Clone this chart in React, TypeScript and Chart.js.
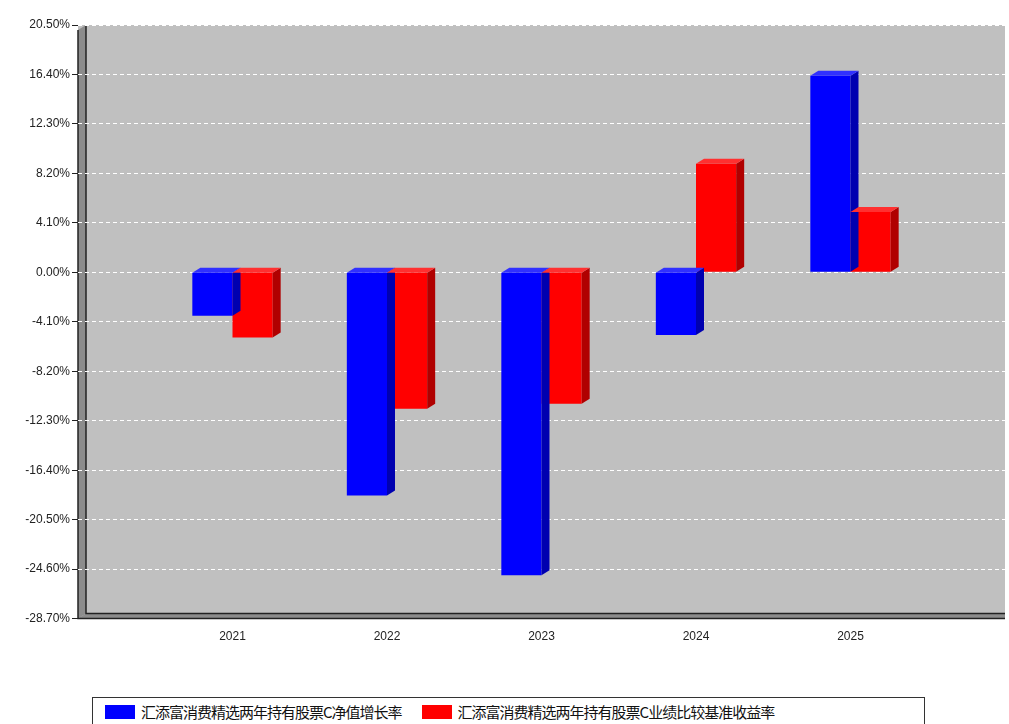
import { useEffect, useRef } from "react"
import { Chart, registerables } from "chart.js"

Chart.register(...registerables)

const years = ["", "2021", "2022", "2023", "2024", "2025", ""]
const navGrowth = [null, -3.6, -18.5, -25.1, -5.2, 16.3, null]
const benchmark = [null, -5.4, -11.3, -10.9, 9.0, 5.0, null]
const yTicks = [-28.7, -24.6, -20.5, -16.4, -12.3, -8.2, -4.1, 0, 4.1, 8.2, 12.3, 16.4, 20.5]
const seriesNames = ["汇添富消费精选两年持有股票C净值增长率", "汇添富消费精选两年持有股票C业绩比较基准收益率"]

const DX = 8
const DY = 5

// gray back wall, side/floor frame and 3D faces of the bars
const wallPlugin = {
  id: "wall",
  beforeDraw(chart: Chart) {
    const { ctx, chartArea: a } = chart
    ctx.save()
    ctx.fillStyle = "#c0c0c0"
    ctx.fillRect(a.left, a.top, a.right - a.left, a.bottom - a.top)
    ctx.fillStyle = "#8c8c8c"
    ctx.beginPath()
    ctx.moveTo(a.left, a.top + DY)
    ctx.lineTo(a.left + DX, a.top)
    ctx.lineTo(a.left + DX, a.bottom - DY)
    ctx.lineTo(a.left, a.bottom)
    ctx.closePath()
    ctx.fill()
    ctx.beginPath()
    ctx.moveTo(a.left, a.bottom)
    ctx.lineTo(a.left + DX, a.bottom - DY)
    ctx.lineTo(a.right, a.bottom - DY)
    ctx.lineTo(a.right, a.bottom)
    ctx.closePath()
    ctx.fill()
    ctx.strokeStyle = "#222"
    ctx.lineWidth = 1.5
    ctx.beginPath()
    ctx.moveTo(a.left + DX, a.top)
    ctx.lineTo(a.left + DX, a.bottom - DY)
    ctx.lineTo(a.right, a.bottom - DY)
    ctx.moveTo(a.left, a.top + DY)
    ctx.lineTo(a.left, a.bottom)
    ctx.lineTo(a.right, a.bottom)
    ctx.stroke()
    ctx.restore()
  },
  afterDatasetsDraw(chart: Chart) {
    const { ctx } = chart
    const shades = [
      { top: "#3030ff", side: "#0000b0" },
      { top: "#ff3030", side: "#b00000" },
    ]
    ctx.save()
    chart.data.datasets.forEach((ds, di) => {
      chart.getDatasetMeta(di).data.forEach((el: any, i: number) => {
        if (ds.data[i] == null) return
        const l = el.x - el.width / 2
        const r = el.x + el.width / 2
        const t = Math.min(el.y, el.base)
        const b = Math.max(el.y, el.base)
        ctx.fillStyle = shades[di].side
        ctx.beginPath()
        ctx.moveTo(r, t)
        ctx.lineTo(r + DX, t - DY)
        ctx.lineTo(r + DX, b - DY)
        ctx.lineTo(r, b)
        ctx.closePath()
        ctx.fill()
        ctx.fillStyle = shades[di].top
        ctx.beginPath()
        ctx.moveTo(l, t)
        ctx.lineTo(l + DX, t - DY)
        ctx.lineTo(r + DX, t - DY)
        ctx.lineTo(r, t)
        ctx.closePath()
        ctx.fill()
      })
    })
    ctx.restore()
  },
}

export default function App() {
  const chartRef = useRef<HTMLCanvasElement>(null)

  useEffect(() => {
    document.body.style.margin = "0"
    if (!chartRef.current) return
    const chart = new Chart(chartRef.current, {
      type: "bar",
      data: {
        labels: years,
        datasets: [
          { label: seriesNames[0], data: navGrowth, backgroundColor: "#0000ff" },
          { label: seriesNames[1], data: benchmark, backgroundColor: "#ff0000" },
        ],
      },
      plugins: [wallPlugin],
      options: {
        animation: false,
        responsive: false,
        layout: { padding: { top: 25, right: 4, left: 0 } },
        datasets: { bar: { categoryPercentage: 0.52, barPercentage: 1 } },
        plugins: { legend: { display: false }, tooltip: { enabled: false } },
        scales: {
          x: {
            offset: false,
            grid: { display: false },
            border: { display: false },
            ticks: { color: "#222", font: { family: "Liberation Sans", size: 12 }, maxRotation: 0, autoSkip: false },
          },
          y: {
            min: -28.7,
            max: 20.5,
            afterBuildTicks: (axis: any) => {
              axis.ticks = yTicks.map((v) => ({ value: v }))
            },
            afterFit: (axis: any) => {
              axis.width = 78
            },
            grid: {
              color: (c: any) => (c.tick && c.tick.value === -28.7 ? "rgba(0,0,0,0)" : "#ffffff"),
              tickColor: "#222",
              tickLength: 6,
            },
            border: { display: false, dash: [4, 3] },
            ticks: {
              color: "#222",
              font: { family: "Liberation Sans", size: 12 },
              padding: 2,
              callback: (v: any) => Number(v).toFixed(2) + "%",
            },
          },
        },
      },
    })
    return () => chart.destroy()
  }, [])

  return (
    <div style={{ position: "relative", width: 1009, height: 724, background: "#fff", fontFamily: "Liberation Sans" }}>
      <canvas ref={chartRef} width={1009} height={647} />
      <div
        style={{
          position: "absolute",
          left: 92,
          top: 697,
          width: 831,
          height: 27,
          border: "1px solid #333",
          borderBottom: "none",
          display: "flex",
          alignItems: "center",
          fontSize: 15,
          fontFamily: "Noto Sans CJK SC",
          color: "#111",
        }}
      >
        {seriesNames.map((n, i) => (
          <div key={n} style={{ display: "flex", alignItems: "center", marginLeft: i === 0 ? 12 : 20 }}>
            <span style={{ display: "inline-block", width: 30, height: 14, background: i === 0 ? "#0000ff" : "#ff0000", marginRight: 6 }} />
            <span style={{ letterSpacing: -1 }}>{n}</span>
          </div>
        ))}
      </div>
    </div>
  )
}
